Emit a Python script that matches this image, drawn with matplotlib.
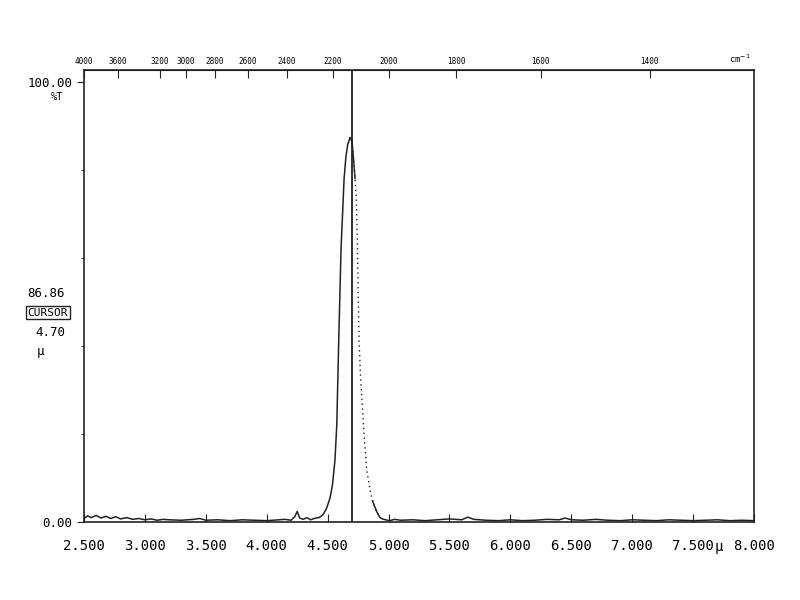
import numpy as np
import matplotlib
matplotlib.use("Agg")
import matplotlib.pyplot as plt

# wavelength (micron) and %T
wl_base_left = [2.50, 2.53, 2.56, 2.60, 2.64, 2.68, 2.72, 2.76, 2.80, 2.85, 2.90, 2.95,
                3.00, 3.05, 3.10, 3.15, 3.20, 3.30, 3.40, 3.45, 3.50, 3.60, 3.70,
                3.80, 3.90, 4.00, 4.10, 4.15, 4.20, 4.23, 4.25, 4.27, 4.30, 4.33,
                4.36, 4.40]
t_base_left = [0.8, 1.4, 1.0, 1.5, 0.9, 1.3, 0.8, 1.2, 0.7, 1.0, 0.6, 0.8,
               0.5, 0.7, 0.4, 0.6, 0.5, 0.4, 0.6, 0.8, 0.4, 0.5, 0.3,
               0.5, 0.4, 0.3, 0.5, 0.6, 0.4, 1.2, 2.4, 0.9, 0.6, 1.0,
               0.5, 0.9]

wl_rise = [4.43, 4.46, 4.49, 4.52, 4.54, 4.56, 4.575, 4.59, 4.61, 4.635, 4.65,
           4.665, 4.684]
t_rise = [1.0, 1.6, 3.0, 5.5, 8.5, 14.0, 22.0, 40.0, 62.0, 78.0, 83.0,
          85.8, 87.3]

wl_fall = [4.70, 4.71, 4.725, 4.735, 4.745, 4.757, 4.77, 4.78, 4.79, 4.80,
           4.82, 4.85, 4.87, 4.90, 4.93]
t_fall = [86.5, 83.5, 78.0, 74.0, 62.0, 42.0, 33.0, 28.6, 24.0, 19.6,
          12.0, 7.0, 4.7, 2.5, 1.0]

wl_base_right = [4.96, 5.01, 5.05, 5.10, 5.20, 5.30, 5.40, 5.50, 5.60, 5.65,
                 5.70, 5.80, 5.90, 6.00, 6.10, 6.20, 6.30, 6.40, 6.45, 6.50,
                 6.60, 6.70, 6.80, 6.90, 7.00, 7.10, 7.20, 7.30, 7.40, 7.50,
                 7.60, 7.70, 7.80, 7.90, 8.00]
t_base_right = [0.6, 0.3, 0.6, 0.4, 0.5, 0.3, 0.5, 0.7, 0.5, 1.1,
                0.6, 0.4, 0.3, 0.5, 0.3, 0.4, 0.6, 0.5, 0.9, 0.5,
                0.4, 0.6, 0.4, 0.3, 0.5, 0.4, 0.3, 0.5, 0.4, 0.3,
                0.4, 0.5, 0.3, 0.4, 0.3]

top_ticks = [4000, 3600, 3200, 3000, 2800, 2600, 2400, 2200, 2000, 1800, 1600, 1400]
bottom_ticks = [2.5, 3.0, 3.5, 4.0, 4.5, 5.0, 5.5, 6.0, 6.5, 7.0, 7.5, 8.0]
bottom_labels = ["2.500", "3.000", "3.500", "4.000", "4.500", "5.000", "5.500",
                 "6.000", "6.500", "7.000", "7.500", "8.000"]
cursor_x = 4.70
cursor_val = "86.86"

mono = "DejaVu Sans Mono"
ink = "#222222"

fig = plt.figure(figsize=(8, 6), dpi=100)
ax = fig.add_axes([0.105, 0.13, 0.8375, 0.7533])

left_x = wl_base_left + wl_rise
left_y = t_base_left + t_rise
ax.plot(left_x, left_y, color=ink, lw=1.1)
ax.plot(wl_fall, t_fall, color=ink, lw=1.0, ls=(0, (1, 2.5)))
ax.plot(wl_fall[:3], t_fall[:3], color=ink, lw=1.0)
ax.plot(wl_fall[-3:] + wl_base_right, t_fall[-3:] + t_base_right, color=ink, lw=1.1)
ax.plot([left_x[-1], wl_fall[0]], [left_y[-1], t_fall[0]], color=ink, lw=1.1)

ax.axvline(cursor_x, color=ink, lw=1.3)

ax.set_xlim(2.5, 8.0)
ax.set_ylim(0, 102.7)
for s in ax.spines.values():
    s.set_color(ink)
    s.set_linewidth(1.2)

ax.set_xticks(bottom_ticks)
ax.set_xticklabels(bottom_labels, fontfamily=mono, fontsize=10)
ax.tick_params(axis="x", direction="in", length=6, color=ink, pad=12)
ax.set_yticks([0, 100])
ax.set_yticklabels(["0.00", "100.00"], fontfamily=mono, fontsize=9)
ax.set_yticks([20, 40, 60, 80], minor=True)
ax.tick_params(axis="y", which="major", direction="out", length=5, color=ink)
ax.tick_params(axis="y", which="minor", direction="out", length=2, color=ink)

# top wavenumber axis
top = ax.secondary_xaxis("top", functions=(lambda x: 10000.0 / x, lambda x: 10000.0 / x))
top.set_xticks(top_ticks)
top.set_xticklabels([str(t) for t in top_ticks], fontsize=5.5, fontfamily=mono)
top.tick_params(direction="in", length=6, color=ink, pad=3)
ax.text(0.995, 1.012, "cm$^{-1}$", transform=ax.transAxes, ha="right", va="bottom",
        fontsize=6.5, fontfamily=mono)

ax.text(7.71, -5.6, "\u03bc", ha="center", va="center", fontsize=10, fontfamily=mono)

# cursor readout on the left
fig.text(0.072, 0.838, "%T", ha="center", va="center", fontsize=7.5, fontfamily=mono)
fig.text(0.081, 0.511, cursor_val, ha="right", va="center", fontsize=9, fontfamily=mono)
fig.text(0.085, 0.479, "CURSOR", ha="right", va="center", fontsize=8, fontfamily=mono,
         bbox=dict(boxstyle="square,pad=0.15", fc="white", ec=ink, lw=1))
fig.text(0.082, 0.445, "4.70", ha="right", va="center", fontsize=9, fontfamily=mono)
fig.text(0.05, 0.415, "\u03bc", ha="center", va="center", fontsize=9, fontfamily=mono)

fig.savefig("out.png", dpi=100)
